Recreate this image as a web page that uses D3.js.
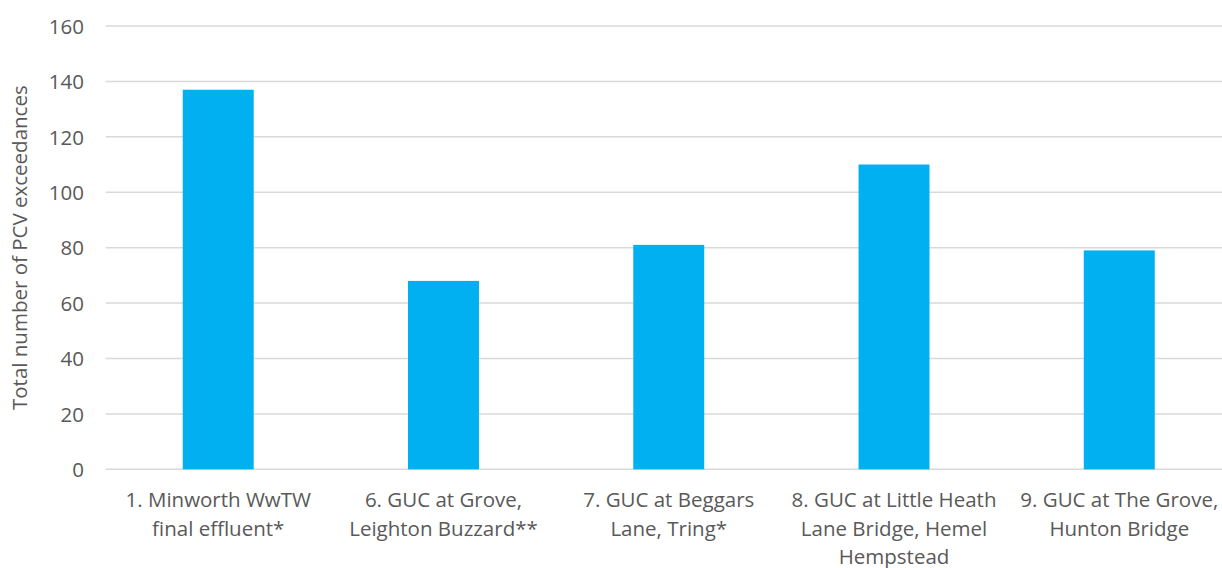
<!DOCTYPE html>
<html>
<head>
<meta charset="utf-8">
<script src="https://cdn.jsdelivr.net/npm/d3@7"></script>
<style>
  html, body { margin: 0; padding: 0; background: #ffffff; }
  svg { display: block; }
  text { font-family: "Open Sans", "Noto Sans", sans-serif; fill: #595959; }
</style>
</head>
<body>
<svg id="chart" width="1222" height="568"></svg>
<script>
// Sampling sites (label lines as printed under each bar)
const categories = [
  ["1. Minworth WwTW", "final effluent*"],
  ["6. GUC at Grove,", "Leighton Buzzard**"],
  ["7. GUC at Beggars", "Lane, Tring*"],
  ["8. GUC at Little Heath", "Lane Bridge, Hemel", "Hempstead"],
  ["9. GUC at The Grove,", "Hunton Bridge"]
];
// Total number of PCV exceedances per site
const exceedances = [137, 68, 81, 110, 79];
const yTicks = [0, 20, 40, 60, 80, 100, 120, 140, 160];
const yTitle = "Total number of PCV exceedances";

const svg = d3.select("#chart");
const plotLeft = 105.6, plotRight = 1231.9, plotTop = 26, plotBottom = 469.3;
const fontSize = "20.5px";

const x = d3.scaleBand()
  .domain(d3.range(categories.length))
  .range([plotLeft, plotRight])
  .padding(0);
const barW = x.bandwidth() * 0.315;

const y = d3.scaleLinear().domain([0, 160]).range([plotBottom, plotTop]);

// Horizontal gridlines
svg.append("g")
  .selectAll("line")
  .data(yTicks)
  .join("line")
  .attr("x1", plotLeft)
  .attr("x2", 1222)
  .attr("y1", d => y(d))
  .attr("y2", d => y(d))
  .attr("stroke", "#d9d9d9")
  .attr("stroke-width", 1.5);

// Y axis tick labels
const yAxis = d3.axisLeft(y).tickValues(yTicks).tickSize(0).tickPadding(0);
const yg = svg.append("g").attr("transform", "translate(84,0)").call(yAxis);
yg.select(".domain").remove();
yg.selectAll("text")
  .style("font-family", '"Open Sans", sans-serif')
  .style("font-size", fontSize)
  .attr("fill", "#595959")
  .attr("dy", "0.35em");

// Bars
svg.append("g")
  .selectAll("rect")
  .data(exceedances)
  .join("rect")
  .attr("x", (d, i) => x(i) + (x.bandwidth() - barW) / 2)
  .attr("width", barW)
  .attr("y", d => y(d))
  .attr("height", d => y(0) - y(d))
  .attr("fill", "#00b0f0");

// Category labels
const xl = svg.append("g");
categories.forEach((lines, i) => {
  const t = xl.append("text")
    .attr("text-anchor", "middle")
    .attr("font-size", fontSize)
    .attr("transform", `translate(${x(i) + x.bandwidth() / 2},0)`);
  lines.forEach((ln, k) => {
    t.append("tspan").attr("x", 0).attr("y", 507 + k * 28.5).text(ln);
  });
});

// Y axis title
svg.append("text")
  .attr("transform", `translate(27,${(plotTop + plotBottom) / 2}) rotate(-90)`)
  .attr("text-anchor", "middle")
  .attr("font-size", fontSize)
  .text(yTitle);
</script>
</body>
</html>
